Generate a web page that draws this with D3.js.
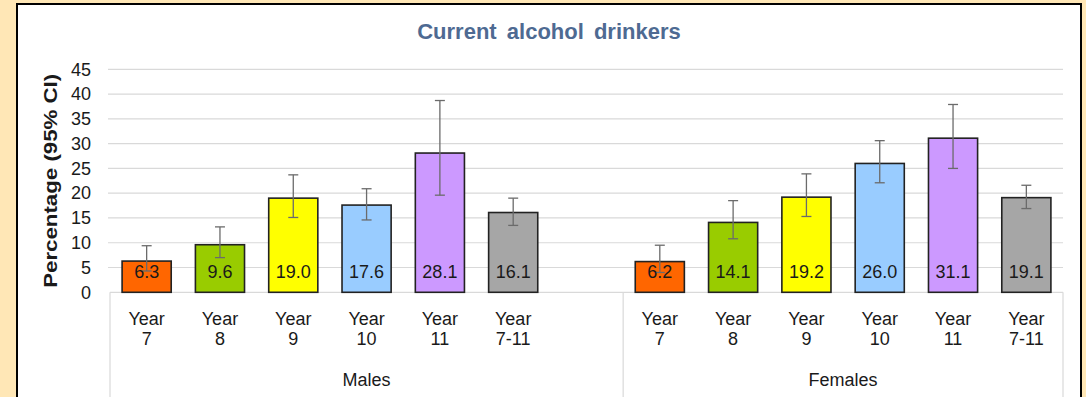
<!DOCTYPE html>
<html>
<head>
<meta charset="utf-8">
<script src="https://cdn.jsdelivr.net/npm/d3@7"></script>
<style>
  body { margin: 0; background: #FFE7B6; }
  text { font-family: Arial, "Liberation Sans", sans-serif; }
</style>
</head>
<body>
<div id="chart"></div>
<script>
const WIDTH = 1086;
const HEIGHT = 397;

// categories
var GROUPS = ["Males", "Females"];
var YEARS = ["7", "8", "9", "10", "11", "7-11"];
var BAR_COLORS = ["#FF6600", "#99CC00", "#FFFF00", "#99CCFF", "#CC99FF", "#A6A6A6"];

// series values (percentage, 95% CI)
var MALE_VALUES = [6.3, 9.6, 19.0, 17.6, 28.1, 16.1];
var MALE_LOWER = [4.3, 7.0, 15.1, 14.6, 19.6, 13.5];
var MALE_UPPER = [9.4, 13.2, 23.7, 20.9, 38.7, 19.0];
var FEMALE_VALUES = [6.2, 14.1, 19.2, 26.0, 31.1, 19.1];
var FEMALE_LOWER = [4.0, 10.8, 15.3, 22.1, 25.0, 16.9];
var FEMALE_UPPER = [9.5, 18.5, 23.9, 30.6, 37.9, 21.6];

var Y_TICKS = [0, 5, 10, 15, 20, 25, 30, 35, 40, 45];

//build rows: males, one empty slot, females
var rows = [];
YEARS.forEach((y, i) => rows.push({ key: "M" + i, group: 0, year: y, ci: i,
  value: MALE_VALUES[i], lo: MALE_LOWER[i], hi: MALE_UPPER[i] }));
var GAP_KEY = "gap";
YEARS.forEach((y, i) => rows.push({ key: "F" + i, group: 1, year: y, ci: i,
  value: FEMALE_VALUES[i], lo: FEMALE_LOWER[i], hi: FEMALE_UPPER[i] }));

var slotKeys = rows.slice(0, 6).map(d => d.key)
  .concat([GAP_KEY])
  .concat(rows.slice(6).map(d => d.key));

var PI = 0.33;
var xScale = d3.scaleBand()
  .domain(slotKeys)
  .range([110, 1063])
  .paddingInner(PI)
  .paddingOuter(PI / 2);

var yScale = d3.scaleLinear()
  .domain([0, 45])
  .range([292.3, 69.3]);

var bw = xScale.bandwidth();
var half = (xScale.step() - bw) / 2;
var xLeft = xScale.range()[0];
var xRight = xScale.range()[1];

var svg = d3.select("#chart")
  .append("svg")
  .attr("width", WIDTH)
  .attr("height", HEIGHT);

//chart box
svg.append("rect")
  .attr("x", 17)
  .attr("y", 4)
  .attr("width", 1064)
  .attr("height", 400)
  .attr("fill", "#ffffff")
  .attr("stroke", "#000")
  .attr("stroke-width", 2);

//title
svg.append("text")
  .attr("x", 549)
  .attr("y", 39)
  .attr("text-anchor", "middle")
  .attr("font-size", 22)
  .attr("font-weight", "bold")
  .attr("fill", "#4E6A92")
  .attr("word-spacing", 4)
  .text("Current alcohol drinkers");

//gridlines
svg.append("g")
  .selectAll("line")
  .data(Y_TICKS.filter(t => t > 0))
  .enter()
  .append("line")
  .attr("x1", xLeft - 2)
  .attr("x2", xRight)
  .attr("y1", d => yScale(d))
  .attr("y2", d => yScale(d))
  .attr("stroke", "#D9D9D9")
  .attr("stroke-width", 1.2);

//y axis labels
var yAxis = d3.axisLeft(yScale).tickValues(Y_TICKS).tickSize(0).tickPadding(0);
var yg = svg.append("g")
  .attr("transform", "translate(91,0)")
  .call(yAxis);
yg.select(".domain").remove();
yg.selectAll("text")
  .attr("font-size", 18)
  .attr("fill", "#1a1a1a")
  .attr("font-family", "Arial, 'Liberation Sans', sans-serif");

//y axis title
svg.append("text")
  .attr("transform", "translate(57," + ((yScale(0) + yScale(45)) / 2) + ") rotate(-90)")
  .attr("text-anchor", "middle")
  .attr("font-size", 19)
  .attr("font-weight", "bold")
  .attr("fill", "#1a1a1a")
  .attr("textLength", 214)
  .attr("lengthAdjust", "spacingAndGlyphs")
  .text("Percentage (95% CI)");

//category axis line and group separators
svg.append("line")
  .attr("x1", xLeft)
  .attr("x2", xRight)
  .attr("y1", yScale(0))
  .attr("y2", yScale(0))
  .attr("stroke", "#D9D9D9")
  .attr("stroke-width", 1.2);

var sepX = [xLeft, xScale("F0") - half, xRight];
svg.append("g")
  .selectAll("line")
  .data(sepX)
  .enter()
  .append("line")
  .attr("x1", d => d)
  .attr("x2", d => d)
  .attr("y1", yScale(0))
  .attr("y2", HEIGHT)
  .attr("stroke", "#D9D9D9")
  .attr("stroke-width", 1.2);

//bars
svg.append("g")
  .selectAll("rect")
  .data(rows)
  .enter()
  .append("rect")
  .attr("x", d => xScale(d.key))
  .attr("y", d => yScale(d.value))
  .attr("width", bw)
  .attr("height", d => yScale(0) - yScale(d.value))
  .attr("fill", d => BAR_COLORS[d.ci])
  .attr("stroke", "#222")
  .attr("stroke-width", 1.6);

//error bars
var eb = svg.append("g")
  .attr("stroke", "#6B6B6B")
  .attr("stroke-width", 1.3);
rows.forEach(d => {
  var cx = xScale(d.key) + bw / 2;
  eb.append("line").attr("x1", cx).attr("x2", cx)
    .attr("y1", yScale(d.lo)).attr("y2", yScale(d.hi));
  eb.append("line").attr("x1", cx - 5).attr("x2", cx + 5)
    .attr("y1", yScale(d.hi)).attr("y2", yScale(d.hi));
  eb.append("line").attr("x1", cx - 5).attr("x2", cx + 5)
    .attr("y1", yScale(d.lo)).attr("y2", yScale(d.lo));
});

//value labels
svg.append("g")
  .selectAll("text")
  .data(rows)
  .enter()
  .append("text")
  .attr("x", d => xScale(d.key) + bw / 2)
  .attr("y", yScale(0) - 14)
  .attr("text-anchor", "middle")
  .attr("font-size", 18)
  .attr("fill", "#1a1a1a")
  .text(d => d.value.toFixed(1));

//category labels
var cat = svg.append("g")
  .selectAll("text")
  .data(rows)
  .enter()
  .append("text")
  .attr("text-anchor", "middle")
  .attr("font-size", 18)
  .attr("fill", "#1a1a1a");
cat.append("tspan")
  .attr("x", d => xScale(d.key) + bw / 2)
  .attr("y", 325)
  .text("Year");
cat.append("tspan")
  .attr("x", d => xScale(d.key) + bw / 2)
  .attr("y", 345)
  .text(d => d.year);

//group labels
svg.append("g")
  .selectAll("text")
  .data(GROUPS)
  .enter()
  .append("text")
  .attr("x", (d, i) => i === 0
    ? (xLeft + xScale("F0") - half) / 2
    : (xScale("F0") - half + xRight) / 2)
  .attr("y", 386)
  .attr("text-anchor", "middle")
  .attr("font-size", 18)
  .attr("fill", "#1a1a1a")
  .text(d => d);
</script>
</body>
</html>
